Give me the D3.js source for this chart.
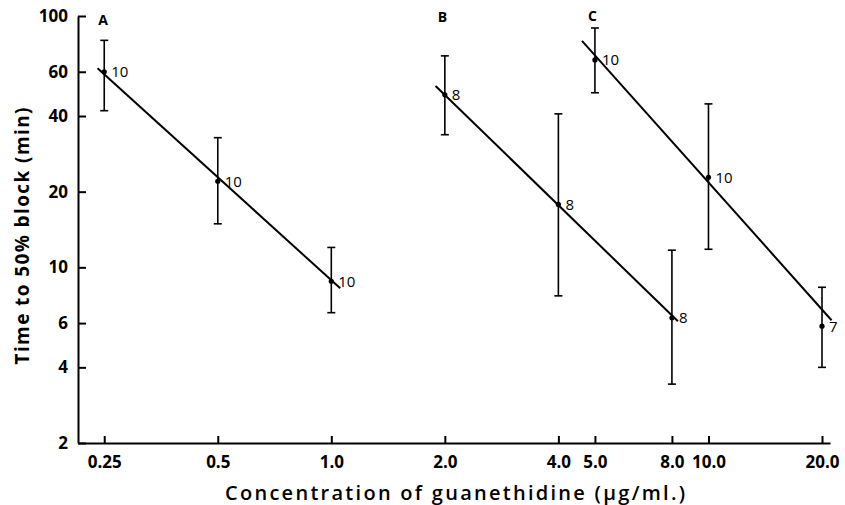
<!DOCTYPE html>
<html>
<head>
<meta charset="utf-8">
<script src="https://cdn.jsdelivr.net/npm/d3@7"></script>
<style>
  body { margin: 0; background: #fff; }
  svg { display: block; font-family: "Open Sans", Lato, sans-serif; }
</style>
</head>
<body>
<svg width="845" height="505"></svg>
<script>
// series A, B, C: concentration (ug/ml), mean time (min), error bar limits, n
var concA = [0.25, 0.5, 1.0];
var meanA = [60, 22, 8.8];
var upperA = [80, 32.8, 12];
var lowerA = [42, 14.9, 6.6];
var nA = ["10", "10", "10"];
var fitA = [[0.24, 62], [1.056, 8.25]];

var concB = [2.0, 4.0, 8.0];
var meanB = [48.6, 17.8, 6.3];
var upperB = [69.4, 40.8, 11.7];
var lowerB = [33.7, 7.7, 3.43];
var nB = ["8", "8", "8"];
var fitB = [[1.89, 52.7], [8.3, 6.1]];

var concC = [5.0, 10.0, 20.0];
var meanC = [66.9, 22.8, 5.83];
var upperC = [89.6, 44.7, 8.33];
var lowerC = [49.5, 11.8, 4.0];
var nC = ["10", "10", "7"];
var fitC = [[4.62, 79.6], [21.2, 6.16]];

var xTicks = [0.25, 0.5, 1.0, 2.0, 4.0, 5.0, 8.0, 10.0, 20.0];
var xTickLabels = ["0.25", "0.5", "1.0", "2.0", "4.0", "5.0", "8.0", "10.0", "20.0"];
var yTicks = [2, 4, 6, 10, 20, 40, 60, 100];
var panelNames = ["A", "B", "C"];

var svg = d3.select("svg");
var x = d3.scaleLog().domain([0.213, 21]).range([78, 830]);
var y = d3.scaleLog().domain([2, 100]).range([443, 16]);

var yAxis = svg.append("g").attr("transform", "translate(78,0)")
  .call(d3.axisLeft(y).tickValues(yTicks).tickFormat(d3.format("d")).tickSizeInner(-8).tickSizeOuter(0).tickPadding(10));
var xAxis = svg.append("g").attr("transform", "translate(0,443)")
  .call(d3.axisBottom(x).tickValues(xTicks).tickFormat(function(d, i) { return xTickLabels[i]; }).tickSizeInner(-7).tickSizeOuter(0).tickPadding(13));
[yAxis, xAxis].forEach(function(a) {
  a.select(".domain").attr("stroke", "#000").attr("stroke-width", 2);
  a.selectAll(".tick line").attr("stroke", "#000").attr("stroke-width", 2);
  a.selectAll(".tick text").attr("fill", "#000").style("font-size", "17px").style("font-weight", "bold").style("font-family", "'Open Sans', sans-serif");
});

var groups = [
  {conc: concA, mean: meanA, upper: upperA, lower: lowerA, n: nA, fit: fitA},
  {conc: concB, mean: meanB, upper: upperB, lower: lowerB, n: nB, fit: fitB},
  {conc: concC, mean: meanC, upper: upperC, lower: lowerC, n: nC, fit: fitC}
];
var line = d3.line().x(function(d) { return x(d[0]); }).y(function(d) { return y(d[1]); });

groups.forEach(function(g, gi) {
  svg.append("path").attr("d", line(g.fit)).attr("fill", "none").attr("stroke", "#000").attr("stroke-width", 2);
  g.conc.forEach(function(c, i) {
    var cx = x(c);
    svg.append("line").attr("x1", cx).attr("x2", cx).attr("y1", y(g.upper[i])).attr("y2", y(g.lower[i])).attr("stroke", "#000").attr("stroke-width", 1.6);
    [g.upper[i], g.lower[i]].forEach(function(v) {
      svg.append("line").attr("x1", cx - 4).attr("x2", cx + 4).attr("y1", y(v)).attr("y2", y(v)).attr("stroke", "#000").attr("stroke-width", 1.6);
    });
    svg.append("circle").attr("cx", cx).attr("cy", y(g.mean[i])).attr("r", 2.6).attr("fill", "#000");
    svg.append("text").attr("x", cx + 7).attr("y", y(g.mean[i])).attr("dy", "0.36em").style("font-size", "15px").text(g.n[i]);
  });
  svg.append("text").attr("x", x(g.conc[0]) - 6 + (gi == 0 ? 0 : -1)).attr("y", gi == 0 ? 25 : 23 - gi)
    .style("font-size", "14px").style("font-weight", "bold").text(panelNames[gi]);
});

svg.append("text").attr("transform", "translate(29,236) rotate(-90)").attr("text-anchor", "middle")
  .attr("textLength", 257).attr("lengthAdjust", "spacing")
  .style("font-size", "19px").style("font-weight", "bold").text("Time to 50% block (min)");
svg.append("text").attr("x", 455).attr("y", 500).attr("text-anchor", "middle")
  .attr("textLength", 460).attr("lengthAdjust", "spacing")
  .style("font-size", "20px").style("font-weight", "600").text("Concentration of guanethidine (\u03bcg/ml.)");
</script>
</body>
</html>
